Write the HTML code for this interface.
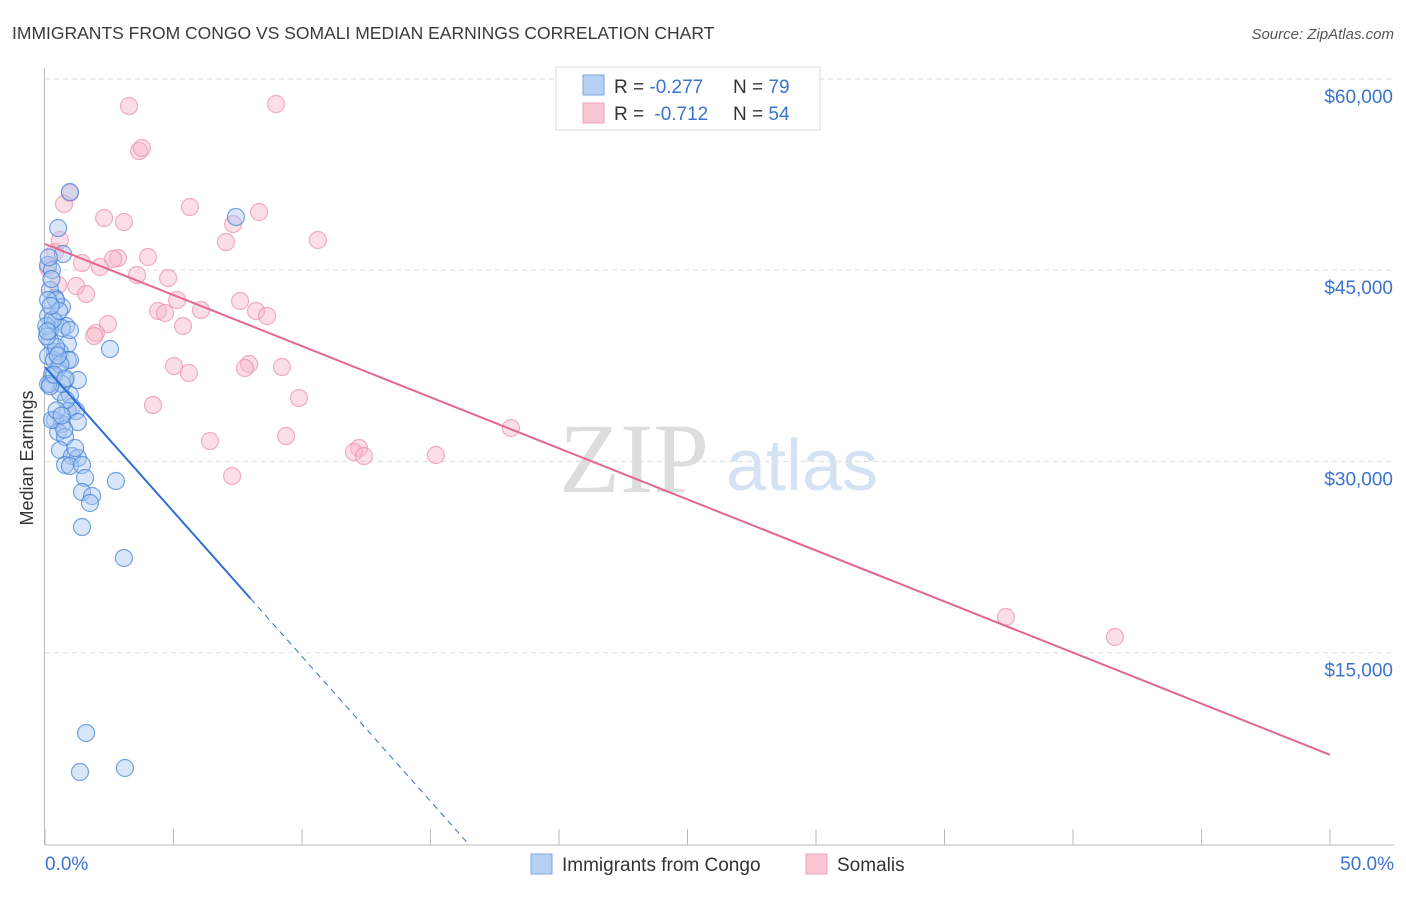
<!DOCTYPE html>
<html><head><meta charset="utf-8"><style>
body{margin:0;background:#fff;font-family:"Liberation Sans",sans-serif}
svg text{font-family:"Liberation Sans",sans-serif}
</style></head><body>
<svg id="c" width="1406" height="892">
<text x="12" y="39" font-size="17.5" fill="#3a3a3a">IMMIGRANTS FROM CONGO VS SOMALI MEDIAN EARNINGS CORRELATION CHART</text>
<text x="1394" y="39" font-size="15" fill="#555" text-anchor="end" font-style="italic">Source: ZipAtlas.com</text>
<text x="33" y="458" font-size="18" fill="#333" text-anchor="middle" transform="rotate(-90 33 458)">Median Earnings</text>
<g><text x="634" y="492" font-size="100" fill="#ddd" text-anchor="middle" style="font-family:'Liberation Serif',serif">ZIP</text><text x="802" y="490" font-size="72" fill="#d5e2f3" text-anchor="middle">atlas</text></g>
<g id="grid"></g><g id="marks"></g>
<g>
<rect x="556" y="67" width="264" height="63" fill="#fff" stroke="#ddd"/>
<rect x="583" y="75" width="21" height="20" fill="#b5d0f3" stroke="#7aa6e0"/>
<rect x="583" y="103" width="21" height="20" fill="#f9c6d4" stroke="#eea2b8"/>
<text x="614" y="93" font-size="19" fill="#333">R = <tspan fill="#3a73d0">-0.277</tspan></text><text x="733" y="93" font-size="19" fill="#333">N = <tspan fill="#3a73d0">79</tspan></text>
<text x="614" y="120" font-size="19" fill="#333">R = <tspan fill="#3a73d0" dx="5">-0.712</tspan></text><text x="733" y="120" font-size="19" fill="#333">N = <tspan fill="#3a73d0">54</tspan></text>
</g>
<g>
<rect x="531" y="854" width="21" height="20" fill="#b5d0f3" stroke="#7aa6e0"/>
<text x="562" y="871" font-size="19" fill="#333">Immigrants from Congo</text>
<rect x="806" y="854" width="21" height="20" fill="#f9c6d4" stroke="#eea2b8"/>
<text x="837" y="871" font-size="19" fill="#333">Somalis</text>
</g>
</svg>
<script>
const xTicks=[0,5,10,15,20,25,30,35,40,45,50];
const yTicks=[15000,30000,45000,60000];
const yTickLabels=["$15,000","$30,000","$45,000","$60,000"];
const congoX=[0.97,0.51,0.70,0.12,0.27,0.39,0.19,0.66,0.12,0.39,0.82,0.19,0.66,0.39,0.89,0.12,0.58,0.89,0.51,0.97,2.53,0.27,0.78,1.28,0.19,0.58,0.97,1.05,0.89,1.21,0.39,0.66,1.28,0.51,0.78,0.58,1.05,1.28,0.78,0.97,1.44,1.56,1.44,1.83,1.75,2.76,1.44,3.07,7.43,1.60,1.36,3.11,0.19,0.43,0.12,0.35,0.66,1.17,0.82,0.27,0.12,0.43,0.97,0.05,0.30,0.60,0.20,0.08,0.45,0.75,0.25,0.15,0.55,0.35,0.10,0.50,0.80,0.22,0.65];
const congoY=[51123,48300,46262,45400,45007,42812,43440,42106,41400,40930,40617,40303,40460,38578,39205,38264,38578,37950,37323,37950,38813,36774,36382,36382,36069,35441,35206,34265,33951,33951,33246,32932,33089,32305,31912,30894,30423,30266,29718,29639,29718,28698,27600,27287,26738,28463,24856,22426,49163,8704,5646,5959,39519,42655,42655,37950,36069,31050,34814,33246,36069,38970,40303,40617,41100,37600,35900,39800,34000,32500,44300,46000,41800,36800,40200,38300,36500,42200,33600];
const somX=[3.27,8.99,3.66,3.77,0.97,0.74,2.30,3.07,5.64,8.33,7.32,7.04,10.62,0.39,1.44,2.14,2.84,4.01,2.65,3.58,4.79,0.51,1.21,1.60,5.14,7.59,6.07,4.40,4.67,8.21,8.64,5.37,2.45,1.98,1.91,5.02,7.94,9.22,7.78,5.60,9.88,4.20,6.42,9.38,12.22,12.02,12.41,15.21,18.13,7.28,37.39,41.63,0.12,0.58];
const somY=[57867,58023,54338,54573,51045,50182,49085,48771,49947,49555,48614,47203,47360,46419,45556,45243,45948,46027,45870,44615,44380,43831,43753,43126,42655,42577,41871,41793,41636,41793,41400,40617,40773,40068,39832,37480,37637,37401,37323,36931,34971,34422,31599,31991,31050,30737,30423,30501,32619,28855,17799,16231,45164,47360];
const congoTrend=[37401,-2270],somTrend=[47046,-801];
const NS="http://www.w3.org/2000/svg";
const X=v=>45+v/50*1285, Y=v=>844-v/15000*191.3;
function mk(t,a,p){const e=document.createElementNS(NS,t);for(const k in a)e.setAttribute(k,a[k]);p.appendChild(e);return e;}
const g=document.getElementById('grid'),m=document.getElementById('marks');
yTicks.forEach((t,i)=>{
 const l=mk('line',{x1:45,x2:1394,y1:Y(t),y2:Y(t),stroke:'#ddd','stroke-dasharray':'5,4'},g);
 
 
 const tx=mk('text',{x:1393,y:Y(t)+24,'font-size':19,fill:'#3a73d0','text-anchor':'end'},g);tx.textContent=yTickLabels[i];
 
 
});
mk('line',{x1:45,x2:1394,y1:79,y2:79,stroke:'#ddd','stroke-dasharray':'5,4'},g);
mk('line',{x1:44.5,x2:44.5,y1:68,y2:845,stroke:'#bbb'},g);
mk('line',{x1:45,x2:1394,y1:845,y2:845,stroke:'#bbb'},g);
xTicks.forEach(t=>{const l=mk('line',{x1:X(t),x2:X(t),y1:829,y2:845,stroke:'#bbb'},g);
 
 });
let a=mk('text',{x:45,y:870,'font-size':19,fill:'#3a73d0'},g);a.textContent='0.0%';


a=mk('text',{x:1394,y:870,'font-size':19,fill:'#3a73d0','text-anchor':'end'},g);a.textContent='50.0%';


function pts(xs,ys,f,s,n){xs.forEach((x,i)=>{const c=mk('circle',{cx:X(x),cy:Y(ys[i]),r:8.5,fill:f,'fill-opacity':0.45,stroke:s,'stroke-opacity':0.7,'stroke-width':1.2},m);
 
 });}
pts(somX,somY,'#f7b6c8','#ec8fab','somali-point');
pts(congoX,congoY,'#a9c8f0','#3f7fd8','congo-point');
const yv=x=>congoTrend[0]+congoTrend[1]*x;
let l=mk('line',{x1:X(0),y1:Y(yv(0)),x2:X(8),y2:Y(yv(8)),stroke:'#2e6fd6','stroke-width':2},m);


const xe=-congoTrend[0]/congoTrend[1];
l=mk('line',{x1:X(8),y1:Y(yv(8)),x2:X(xe),y2:Y(0),stroke:'#2e6fd6','stroke-width':1,'stroke-dasharray':'6,5'},m);


l=mk('line',{x1:X(0),y1:Y(somTrend[0]),x2:X(50),y2:Y(somTrend[0]+somTrend[1]*50),stroke:'#e4668f','stroke-width':2},m);


</script>
</body></html>
